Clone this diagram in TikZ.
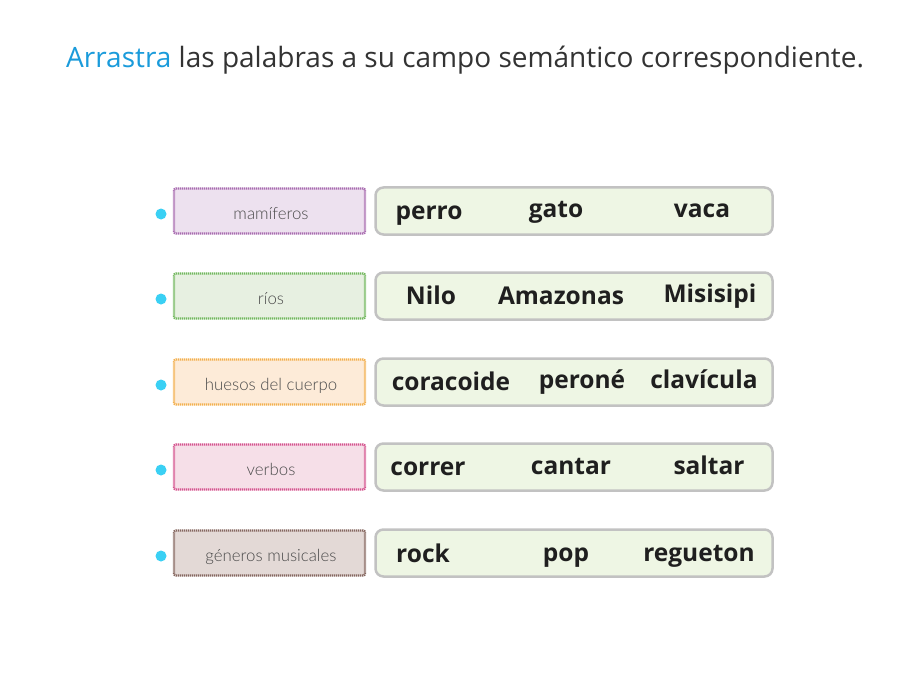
\documentclass[tikz,border=0pt]{standalone}
\usepackage{fontspec}
\setmainfont{Open Sans}
\newfontfamily\latofont{Lato Light}
\newfontfamily\wordfont{Open Sans}
\definecolor{titleblue}{HTML}{1A9BDB}
\definecolor{titlegray}{HTML}{333333}
\definecolor{dotblue}{HTML}{3AD0F4}
\definecolor{wordfill}{HTML}{EEF6E4}
\definecolor{wordborder}{HTML}{C2C2C2}
\definecolor{labgray}{HTML}{4A4A4A}
\definecolor{fa}{HTML}{EDE1EF}\definecolor{ba}{HTML}{A86BB0}
\definecolor{fb}{HTML}{E7F0E1}\definecolor{bb}{HTML}{72B85E}
\definecolor{fc}{HTML}{FDEBD8}\definecolor{bc}{HTML}{F3B04E}
\definecolor{fd}{HTML}{F6DFE8}\definecolor{bd}{HTML}{D5538E}
\definecolor{fe}{HTML}{E3D9D6}\definecolor{be}{HTML}{85665F}
\tikzset{
  labbox/.style={draw=#1, line width=2.3pt, dash pattern=on 1.2pt off 0.8pt, rounded corners=2pt, minimum width=191pt, minimum height=45pt, inner sep=0pt},
  labtxt/.style={anchor=base, inner sep=0pt, font=\latofont\fontsize{16.8}{20}\selectfont, text=labgray},
  wordbox/.style={draw=wordborder, fill=wordfill, line width=2.5pt, rounded corners=8pt, minimum width=397pt, minimum height=47pt, inner sep=0pt},
  wordtxt/.style={font=\wordfont\bfseries\fontsize{24.5}{28}\selectfont, text=black!88, anchor=base},
  dotnode/.style={circle, fill=dotblue, minimum size=11pt, inner sep=0pt}
}
\begin{document}
\begin{tikzpicture}[x=1pt,y=-1pt]
\useasboundingbox[fill=white] (0,0) rectangle (915,687);
\node[anchor=base west, inner sep=0pt, font=\fontsize{28}{32}\selectfont, text=titlegray] (title) at (66,68) {\textcolor{titleblue}{Arrastra} las palabras a su campo semántico correspondiente.};
% rows
\foreach \r/\y/\f/\b/\lab in {a/211/fa/ba/mamíferos, b/296/fb/bb/ríos, c/382/fc/bc/huesos del cuerpo, d/467/fd/bd/verbos, e/553/fe/be/géneros musicales}{
  \node[dotnode] (dot\r) at (161,\y+3) {};
  \node[labbox=\b, fill=\f] (lab\r) at (269.5,\y) {};
  \node[labtxt] (labtext\r) at (271,\y+8) {\lab};
  \node[wordbox] (box\r) at (574,\y) {};
}
\node[wordtxt] (w1) at (429,219) {perro};
\node[wordtxt] (w2) at (556,217) {gato};
\node[wordtxt] (w3) at (702,218) {vaca};
\node[wordtxt] (w4) at (431,304) {Nilo};
\node[wordtxt] (w5) at (561,304) {Amazonas};
\node[wordtxt] (w6) at (710,302) {Misisipi};
\node[wordtxt] (w7) at (451,390) {coracoide};
\node[wordtxt] (w8) at (582,388) {peroné};
\node[wordtxt] (w9) at (704,388) {clavícula};
\node[wordtxt] (w10) at (428,475) {correr};
\node[wordtxt] (w11) at (571,474) {cantar};
\node[wordtxt] (w12) at (709,474) {saltar};
\node[wordtxt] (w13) at (423,562) {rock};
\node[wordtxt] (w14) at (566,561) {pop};
\node[wordtxt] (w15) at (699,561) {regueton};
\end{tikzpicture}
\end{document}
